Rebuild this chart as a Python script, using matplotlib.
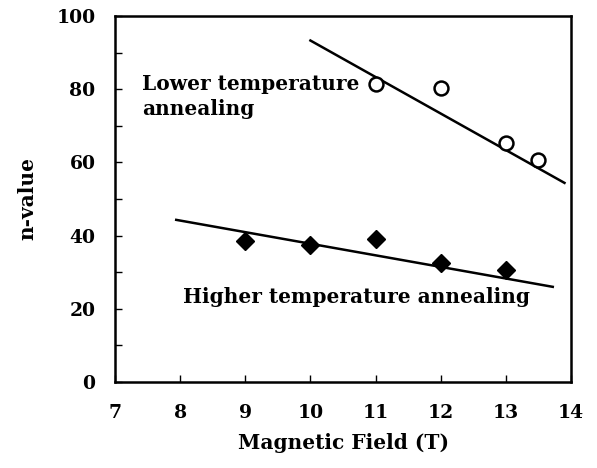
import matplotlib
matplotlib.use("Agg")
import matplotlib.pyplot as plt
from matplotlib.ticker import MultipleLocator

# data
low_x = [11, 12, 13, 13.5]
low_y = [81.5, 80.3, 65.2, 60.6]
high_x = [9, 10, 11, 12, 13]
high_y = [38.6, 37.4, 39.0, 32.4, 30.6]
low_fit_x = [10.0, 13.9]
low_fit_y = [93.3, 54.4]
high_fit_x = [7.94, 13.72]
high_fit_y = [44.3, 26.0]
xticks = [7, 8, 9, 10, 11, 12, 13, 14]
yticks = [0, 20, 40, 60, 80, 100]

plt.rcParams['font.family'] = ['DejaVu Serif']
plt.rcParams['font.weight'] = 'bold'
plt.rcParams['axes.labelweight'] = 'bold'

fig = plt.figure(figsize=(5.97, 4.68), dpi=100)
ax = fig.add_axes([115/597, 1-382/468, (571-115)/597, (382-16)/468])

ax.plot(low_fit_x, low_fit_y, color='black', lw=1.8)
ax.plot(high_fit_x, high_fit_y, color='black', lw=1.8)
ax.plot(low_x, low_y, linestyle='none', marker='o', markersize=10,
        markerfacecolor='white', markeredgecolor='black', markeredgewidth=1.8)
ax.plot(high_x, high_y, linestyle='none', marker='D', markersize=9.5,
        markerfacecolor='black', markeredgecolor='black')

ax.set_xlim(7, 14)
ax.set_ylim(0, 100)
ax.set_xticks(xticks)
ax.set_yticks(yticks)
ax.yaxis.set_minor_locator(MultipleLocator(10))
ax.tick_params(which='both', direction='in', labelsize=13.5, width=1)
ax.tick_params(which='major', length=5)
ax.tick_params(which='minor', length=5)
ax.tick_params(axis='x', pad=16)
ax.tick_params(axis='y', pad=14)
for s in ax.spines.values():
    s.set_linewidth(1.8)

ax.set_xlabel('Magnetic Field (T)', fontsize=14.5, labelpad=8)
ax.set_ylabel('n-value', fontsize=14.5, labelpad=14)

ax.text(7.41, 81.5, 'Lower temperature', fontsize=14.5, va='center', ha='left')
ax.text(7.41, 74.5, 'annealing', fontsize=14.5, va='center', ha='left')
ax.text(8.04, 23.3, 'Higher temperature annealing', fontsize=14.5, va='center', ha='left')

fig.savefig('out.png', dpi=100)
